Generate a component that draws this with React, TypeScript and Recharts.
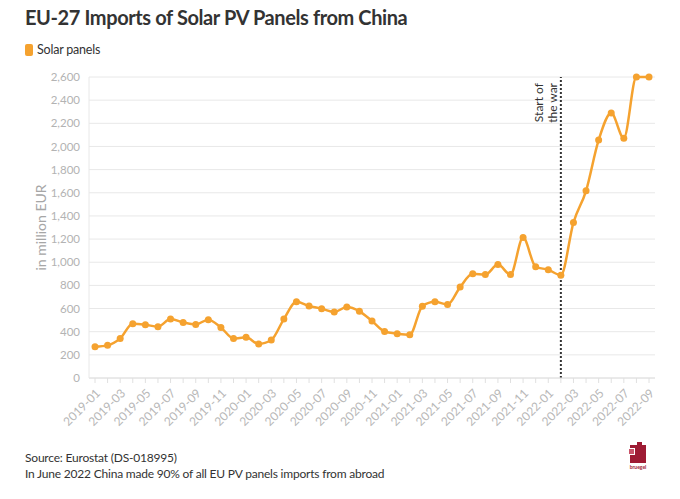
import { LineChart, Line, XAxis, YAxis, CartesianGrid, ReferenceLine } from 'recharts';

const months = [
  '2019-01', '2019-02', '2019-03', '2019-04', '2019-05', '2019-06', '2019-07', '2019-08', '2019-09', '2019-10', '2019-11', '2019-12',
  '2020-01', '2020-02', '2020-03', '2020-04', '2020-05', '2020-06', '2020-07', '2020-08', '2020-09', '2020-10', '2020-11', '2020-12',
  '2021-01', '2021-02', '2021-03', '2021-04', '2021-05', '2021-06', '2021-07', '2021-08', '2021-09', '2021-10', '2021-11', '2021-12',
  '2022-01', '2022-02', '2022-03', '2022-04', '2022-05', '2022-06', '2022-07', '2022-08', '2022-09',
];

// million EUR
const solarPanels = [
  270, 282, 342, 469, 460, 443, 509, 480, 463, 504, 437, 342,
  351, 294, 328, 509, 659, 622, 599, 570, 613, 576, 492, 402,
  383, 373, 620, 658, 635, 785, 900, 893, 980, 893, 1213, 960,
  935, 888, 1343, 1617, 2055, 2289, 2072, 2600, 2600,
];

const yTicks = [0, 200, 400, 600, 800, 1000, 1200, 1400, 1600, 1800, 2000, 2200, 2400, 2600];

const warMonth = '2022-02';

const chartData = months.map((m, i) => ({ month: m, value: solarPanels[i] }));

const FONT = 'Lato, "Noto Sans", sans-serif';
const ORANGE = '#f5a22f';

function MonthTick(props: any) {
  const { x, y, payload } = props;
  const idx = payload.index ?? props.index;
  if (idx % 2 !== 0) return null;
  const tx = x + 6;
  const ty = y + 9;
  return (
    <text
      x={tx}
      y={ty}
      transform={`rotate(-45, ${tx}, ${ty})`}
      textAnchor="end"
      fill="#b8b8b8"
      fontSize={12}
      fontFamily={FONT}
    >
      {payload.value}
    </text>
  );
}

function WarLabel(props: any) {
  const { x, y } = props.viewBox;
  return (
    <g transform={`translate(${x}, ${y})`}>
      <text transform="rotate(-90)" textAnchor="end" fill="#333" fontSize={12} fontFamily={FONT}>
        <tspan x={-6} y={-18}>Start of</tspan>
        <tspan x={-6} y={-4}>the war</tspan>
      </text>
    </g>
  );
}

export default function App() {
  return (
    <div style={{ position: 'absolute', left: 0, top: 0, width: 680, height: 499, background: '#fff', fontFamily: FONT, color: '#333' }}>
      <div style={{ position: 'absolute', left: 25, top: 5, fontSize: 20, fontWeight: 700, letterSpacing: -0.4, color: '#333' }}>
        EU-27 Imports of Solar PV Panels from China
      </div>
      <div style={{ position: 'absolute', left: 25, top: 42, fontSize: 12.5, letterSpacing: -0.2, display: 'flex', alignItems: 'center' }}>
        <span style={{ display: 'inline-block', width: 8, height: 12, borderRadius: 2, background: ORANGE, marginRight: 4 }} />
        Solar panels
      </div>

      <div style={{ position: 'absolute', left: 0, top: 0 }}>
        <LineChart width={680} height={440} data={chartData} margin={{ top: 77, right: 25, bottom: 7, left: 30 }}>
          <CartesianGrid vertical={false} stroke="#e8e8e8" />
          <XAxis
            dataKey="month"
            interval={0}
            tick={<MonthTick />}
            tickLine={{ stroke: '#e0e0e0' }}
            tickSize={5}
            axisLine={{ stroke: '#e0e0e0' }}
            height={55}
            padding={{ left: 6, right: 6 }}
          />
          <YAxis
            domain={[0, 2600]}
            ticks={yTicks}
            width={59}
            tickLine={false}
            axisLine={{ stroke: '#e8e8e8' }}
            tick={{ fill: '#b3b3b3', fontSize: 11.5, fontFamily: FONT }}
            tickFormatter={(v: number) => v.toLocaleString('en-US')}
            tickMargin={3}
            label={{ value: 'in million EUR', angle: -90, position: 'insideLeft', dx: 6, fill: '#a6a6a6', fontSize: 14, fontFamily: FONT, style: { textAnchor: 'middle' } }}
          />
          <ReferenceLine x={warMonth} stroke="#333" strokeWidth={2} strokeDasharray="2 2" label={<WarLabel />} />
          <Line
            type="monotone"
            dataKey="value"
            stroke={ORANGE}
            strokeWidth={2.5}
            dot={{ r: 3.5, fill: ORANGE, stroke: ORANGE, strokeWidth: 0 }}
            activeDot={false}
            isAnimationActive={false}
          />
        </LineChart>
      </div>

      <div style={{ position: 'absolute', left: 25, top: 450, fontSize: 12, letterSpacing: -0.2, lineHeight: '16px', color: '#333' }}>
        <div>Source: Eurostat (DS-018995)</div>
        <div>In June 2022 China made 90% of all EU PV panels imports from abroad</div>
      </div>

      <svg style={{ position: 'absolute', left: 627, top: 441 }} width={22} height={30}>
        <rect x={3} y={4} width={16} height={18} fill="#9e1b34" />
        <rect x={1} y={7} width={7} height={7} fill="#fff" />
        <rect x={2} y={8} width={5} height={5} fill="#c9546a" />
        <rect x={10} y={1} width={5} height={4} fill="#9e1b34" />
        <text x={11} y={28} textAnchor="middle" fontSize={5} fontWeight={700} fill="#9e1b34" fontFamily={FONT}>bruegel</text>
      </svg>
    </div>
  );
}
